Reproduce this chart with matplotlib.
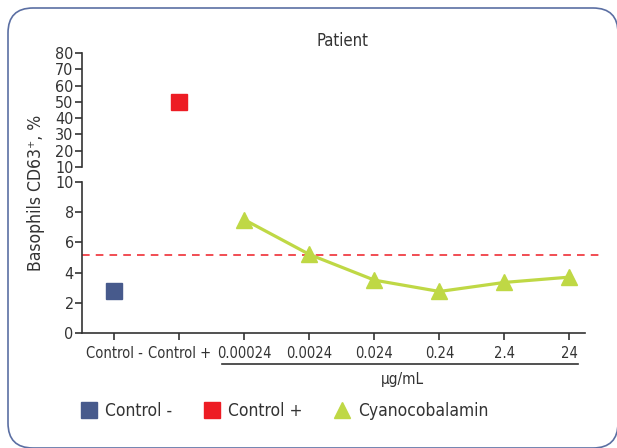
import matplotlib
matplotlib.use("Agg")
import matplotlib.pyplot as plt
from matplotlib.lines import Line2D
from matplotlib.patches import FancyBboxPatch
import matplotlib.transforms as mtransforms

plt.rcParams["font.family"] = ["DejaVu Sans"]
plt.rcParams["font.stretch"] = "condensed"

categories = ["Control -", "Control +", "0.00024", "0.0024", "0.024",
              "0.24", "2.4", "24"]
control_neg = [2.75]
control_pos = [50]
cyano = [7.5, 5.2, 3.5, 2.75, 3.35, 3.7]
threshold = 5.15
low_ticks = [0, 2, 4, 6, 8, 10]
high_ticks = [10, 20, 30, 40, 50, 60, 70, 80]

BLUE = "#475a8c"
RED = "#ed1c24"
GREEN = "#bfd845"
AXC = "#333333"

W, H = 617, 448
fig = plt.figure(figsize=(W / 100, H / 100), dpi=100)


def px_axes(x0, y0, x1, y1):
    return fig.add_axes([x0 / W, 1 - y1 / H, (x1 - x0) / W, (y1 - y0) / H])


ax_hi = px_axes(82, 53, 585, 167)
ax_lo = px_axes(82, 182, 585, 333)

xs = list(range(len(categories)))
for ax in (ax_hi, ax_lo):
    ax.set_xlim(-0.5, 7.24)
    for s in ("top", "right"):
        ax.spines[s].set_visible(False)
    ax.spines["left"].set_color(AXC)
    ax.spines["left"].set_linewidth(1.2)
    ax.tick_params(axis="y", direction="out", length=5, width=1.2,
                   color=AXC, labelsize=11.5, pad=1, labelcolor=AXC)
    ax.patch.set_alpha(0)

ax_hi.set_ylim(10, 80)
ax_hi.set_yticks(high_ticks)
ax_hi.spines["bottom"].set_visible(False)
ax_hi.set_xticks([])

ax_lo.set_ylim(0, 10)
ax_lo.set_yticks(low_ticks)
ax_lo.spines["bottom"].set_color(AXC)
ax_lo.spines["bottom"].set_linewidth(1.2)
ax_lo.set_xticks(xs)
ax_lo.set_xticklabels(categories)
ax_lo.tick_params(axis="x", direction="out", length=5, width=1.2,
                  color=AXC, labelsize=10.5, pad=4, labelcolor=AXC)

ax_lo.axhline(threshold, color=RED, lw=1.1, ls=(0, (5, 4)), zorder=1,
              xmax=1.03, clip_on=False)
ax_lo.plot(xs[:1], control_neg, ls="none", marker="s", ms=11.5,
           color=BLUE, zorder=3)
ax_hi.plot(xs[1:2], control_pos, ls="none", marker="s", ms=11.5,
           color=RED, zorder=3)
ax_lo.plot(xs[2:], cyano, color=GREEN, lw=2.3, marker="^", ms=11,
           zorder=3)

# unit bracket under the concentrations
tr = mtransforms.blended_transform_factory(ax_lo.transData, ax_lo.transAxes)
ax_lo.add_line(Line2D([1.65, 7.13], [-0.205, -0.205], transform=tr,
                      color=AXC, lw=1.2, clip_on=False))
ax_lo.text(4.43, -0.31, "µg/mL", transform=tr, ha="center", va="center",
           fontsize=11, color=AXC)

fig.text(343 / W, 1 - 41 / H, "Patient", ha="center", va="center",
         fontsize=12, color=AXC)
fig.text(36 / W, 1 - 193 / H, "Basophils CD63⁺, %", rotation=90,
         ha="center", va="center", fontsize=12.6, color=AXC)

handles = [
    Line2D([], [], ls="none", marker="s", ms=11.5, color=BLUE),
    Line2D([], [], ls="none", marker="s", ms=11.5, color=RED),
    Line2D([], [], ls="none", marker="^", ms=11, color=GREEN),
]
fig.legend(handles, ["Control -", "Control +", "Cyanocobalamin"],
           loc="center left", bbox_to_anchor=(65 / W, 1 - 411 / H),
           ncol=3, frameon=False, fontsize=12.5, handlelength=1.0,
           handletextpad=0.4, columnspacing=1.8, labelcolor=AXC)

border = FancyBboxPatch((8, 0), 610, 440,
                        boxstyle="round,pad=0,rounding_size=25",
                        transform=mtransforms.IdentityTransform(),
                        fill=False, ec="#5b6fa3", lw=1.2, clip_on=False)
fig.add_artist(border)

fig.savefig("out.png", dpi=100)
